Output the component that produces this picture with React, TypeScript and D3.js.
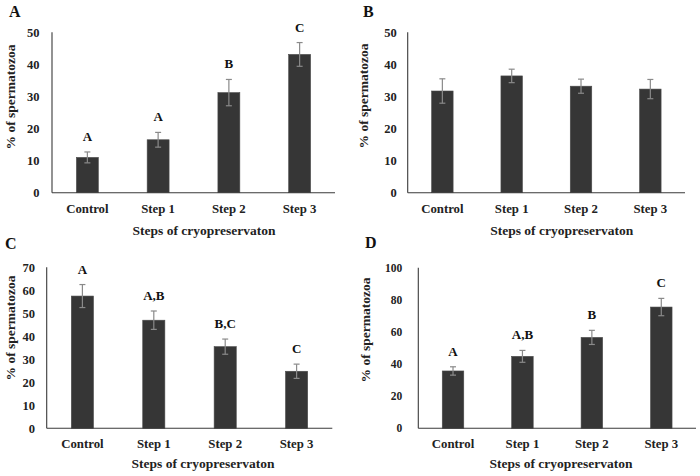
import React from "react";
import * as d3 from "d3";

const categories = ["Control", "Step 1", "Step 2", "Step 3"];

const valuesA = [11.0, 16.5, 31.2, 43.1];
const errorsA = [1.7, 2.3, 4.1, 3.7];
const lettersA = ["A", "A", "B", "C"];

const valuesB = [31.7, 36.4, 33.2, 32.3];
const errorsB = [3.8, 2.1, 2.2, 3.0];
const lettersB = ["", "", "", ""];

const valuesC = [57.5, 47.0, 35.5, 24.8];
const errorsC = [5.0, 4.0, 3.3, 3.1];
const lettersC = ["A", "A,B", "B,C", "C"];

const valuesD = [35.7, 44.8, 56.6, 75.5];
const errorsD = [2.6, 3.7, 4.4, 5.4];
const lettersD = ["A", "A,B", "B", "C"];

const ticksA = [0, 10, 20, 30, 40, 50];
const ticksB = [0, 10, 20, 30, 40, 50];
const ticksC = [0, 10, 20, 30, 40, 50, 60, 70];
const ticksD = [0, 20, 40, 60, 80, 100];

const yTitle = "% of spermatozoa";
const xTitle = "Steps of cryopreservaton";

const FONT = "'Liberation Serif', 'Times New Roman', serif";

type Layout = {
  left: number; right: number; top: number; bottom: number;
  tickGap: number; tickSize: number;
  yTitleX: number; yTitleY: number;
  xTickY: number; xTitleX: number; xTitleY: number;
  labelX: number; labelY: number;
};

function Panel(props: {
  label: string; values: number[]; errors: number[]; letters: string[]; ticks: number[]; layout: Layout;
}) {
  const { label, values, errors, letters, ticks, layout: L } = props;
  const yMax = ticks[ticks.length - 1];
  const x = d3.scaleBand<string>().domain(categories).range([L.left, L.right]).paddingInner(0.69).paddingOuter(0.345);
  const y = d3.scaleLinear().domain([0, yMax]).range([L.bottom, L.top]);
  const bw = x.bandwidth();
  return (
    <g>
      <text x={L.labelX} y={L.labelY} fontFamily={FONT} fontWeight="bold" fontSize={16} fill="#111">{label}</text>
      {ticks.map((t) => (
        <text key={t} x={L.left - L.tickGap} y={y(t)} dy="0.35em" textAnchor="end" fontFamily={FONT} fontWeight="bold" fontSize={L.tickSize} fill="#222">{t}</text>
      ))}
      <text transform={`translate(${L.yTitleX},${L.yTitleY}) rotate(-90)`} textAnchor="middle" dy="0.35em" fontFamily={FONT} fontWeight="bold" fontSize={13.5} fill="#222">{yTitle}</text>
      {categories.map((c, i) => {
        const cx = (x(c) as number) + bw / 2;
        const top = y(values[i]);
        const eHi = y(values[i] + errors[i]);
        const eLo = y(values[i] - errors[i]);
        return (
          <g key={c}>
            <rect x={x(c)} y={top} width={bw} height={L.bottom - top} fill="#363636" stroke="#4a4a4a" strokeWidth={0.6} />
            <line x1={cx} x2={cx} y1={eHi} y2={eLo} stroke="#8a8a8a" strokeWidth={1.2} />
            <line x1={cx - 3} x2={cx + 3} y1={eHi} y2={eHi} stroke="#8a8a8a" strokeWidth={1.2} />
            <line x1={cx - 3} x2={cx + 3} y1={eLo} y2={eLo} stroke="#8a8a8a" strokeWidth={1.2} />
            {letters[i] && (
              <text x={cx} y={eHi - 11} textAnchor="middle" fontFamily={FONT} fontWeight="bold" fontSize={13} fill="#111">{letters[i]}</text>
            )}
            <text x={cx} y={L.xTickY} textAnchor="middle" fontFamily={FONT} fontWeight="bold" fontSize={12.8} fill="#222">{c}</text>
          </g>
        );
      })}
      <line x1={L.left} x2={L.left} y1={L.top} y2={L.bottom} stroke="#3a3a3a" strokeWidth={1.1} />
      <line x1={L.left} x2={L.right} y1={L.bottom} y2={L.bottom} stroke="#3a3a3a" strokeWidth={1.1} />
      <text x={L.xTitleX} y={L.xTitleY} textAnchor="middle" fontFamily={FONT} fontWeight="bold" fontSize={13.5} fill="#222">{xTitle}</text>
    </g>
  );
}

const layoutA: Layout = { left: 52, right: 335, top: 32.3, bottom: 192.7, tickGap: 12.5, tickSize: 12.5, yTitleX: 10, yTitleY: 97, xTickY: 213.3, xTitleX: 204, xTitleY: 235, labelX: 9, labelY: 17 };
const layoutB: Layout = { left: 407.7, right: 685, top: 32.3, bottom: 192.7, tickGap: 11, tickSize: 12.5, yTitleX: 363, yTitleY: 96, xTickY: 213.3, xTitleX: 561.7, xTitleY: 235, labelX: 363, labelY: 17 };
const layoutC: Layout = { left: 46.7, right: 332.3, top: 267.3, bottom: 428.3, tickGap: 11.7, tickSize: 12.5, yTitleX: 10, yTitleY: 328, xTickY: 448.3, xTitleX: 203, xTitleY: 468.3, labelX: 5, labelY: 249 };
const layoutD: Layout = { left: 418.3, right: 696, top: 267.7, bottom: 428.3, tickGap: 16, tickSize: 11.5, yTitleX: 365, yTitleY: 330, xTickY: 448.3, xTitleX: 561, xTitleY: 468.3, labelX: 365, labelY: 248 };

export default function App() {
  return (
    <svg width={700} height={476} style={{ position: "fixed", left: 0, top: 0, background: "#fff" }}>
      <rect x={0} y={0} width={700} height={476} fill="#fff" />
      <Panel label="A" values={valuesA} errors={errorsA} letters={lettersA} ticks={ticksA} layout={layoutA} />
      <Panel label="B" values={valuesB} errors={errorsB} letters={lettersB} ticks={ticksB} layout={layoutB} />
      <Panel label="C" values={valuesC} errors={errorsC} letters={lettersC} ticks={ticksC} layout={layoutC} />
      <Panel label="D" values={valuesD} errors={errorsD} letters={lettersD} ticks={ticksD} layout={layoutD} />
    </svg>
  );
}
